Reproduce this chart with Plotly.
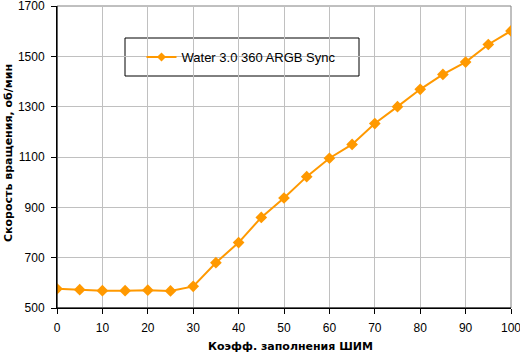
import plotly.graph_objects as go

pwm = [0, 5, 10, 15, 20, 25, 30, 35, 40, 45, 50, 55, 60, 65, 70, 75, 80, 85, 90, 95, 100]
rpm = [576, 573, 569, 569, 571, 568, 586, 680, 760, 860, 937, 1022, 1095, 1150, 1233, 1300, 1369, 1428, 1477, 1547, 1601]
series_name = "Water 3.0 360 ARGB Sync"
x_title = "Коэфф. заполнения ШИМ"
y_title = "Скорость вращения, об/мин"

W, H = 520, 355
L, R, T, B = 57, 9, 6, 47
pw, ph = W - L - R, H - T - B

def px(x):
    return (x - L) / pw

def py(y):
    return (H - B - y) / ph

orange = "#FF9900"
fig = go.Figure()
fig.add_trace(go.Scatter(
    x=pwm, y=rpm, name=series_name, mode="lines+markers",
    line=dict(color=orange, width=2),
    marker=dict(symbol="diamond", size=9, color=orange),
    showlegend=False,
))
fig.add_trace(go.Scatter(
    x=[None], y=[None], name=series_name, mode="lines+markers",
    line=dict(color=orange, width=2),
    marker=dict(symbol="diamond", size=7, color=orange),
    showlegend=True,
))

font = dict(family="Liberation Sans, Arial", size=12, color="black")
tfont = dict(family="DejaVu Sans", size=11, color="black", weight="bold")
axis_common = dict(
    showgrid=True, gridcolor="#C0C0C0", gridwidth=1,
    showline=True, linecolor="black", linewidth=1,
    ticks="outside", ticklen=5, tickcolor="black",
    zeroline=False, automargin=False, ticklabeloverflow="allow",
)
fig.update_layout(
    width=W, height=H,
    margin=dict(l=L, r=R, t=T, b=B),
    paper_bgcolor="white", plot_bgcolor="white",
    font=font,
    showlegend=True,
    legend=dict(x=px(141.5), y=py(57), xanchor="left", yanchor="middle",
                bgcolor="rgba(0,0,0,0)", borderwidth=0,
                font=dict(family="Liberation Sans, Arial", size=13, color="black"),
                itemwidth=30),
    xaxis=dict(range=[0, 100], tickvals=list(range(0, 101, 10)),
               ticklabelstandoff=4, **axis_common),
    yaxis=dict(range=[500, 1700], tickvals=list(range(500, 1701, 200)),
               ticklabelstandoff=4, **axis_common),
    annotations=[
        dict(text=x_title, xref="paper", yref="paper", x=px(290), y=py(347),
             xanchor="center", yanchor="middle", showarrow=False, font=tfont),
        dict(text=y_title, xref="paper", yref="paper", x=px(8), y=py(153),
             xanchor="center", yanchor="middle", showarrow=False, font=tfont,
             textangle=-90),
    ],
    shapes=[
        dict(type="rect", xref="paper", yref="paper", x0=0, x1=1, y0=0, y1=1,
             line=dict(color="#808080", width=1), layer="below"),
        dict(type="line", xref="paper", yref="paper", x0=0, x1=0, y0=0, y1=1,
             line=dict(color="black", width=1)),
        dict(type="line", xref="paper", yref="paper", x0=0, x1=1, y0=0, y1=0,
             line=dict(color="black", width=1)),
        dict(type="rect", xref="paper", yref="paper",
             x0=px(125), x1=px(359), y0=py(76), y1=py(38),
             line=dict(color="black", width=1), fillcolor="white", layer="below"),
    ],
)
fig.write_html("out.html", config={"displayModeBar": False},
               post_script="document.body.style.margin='0';")
